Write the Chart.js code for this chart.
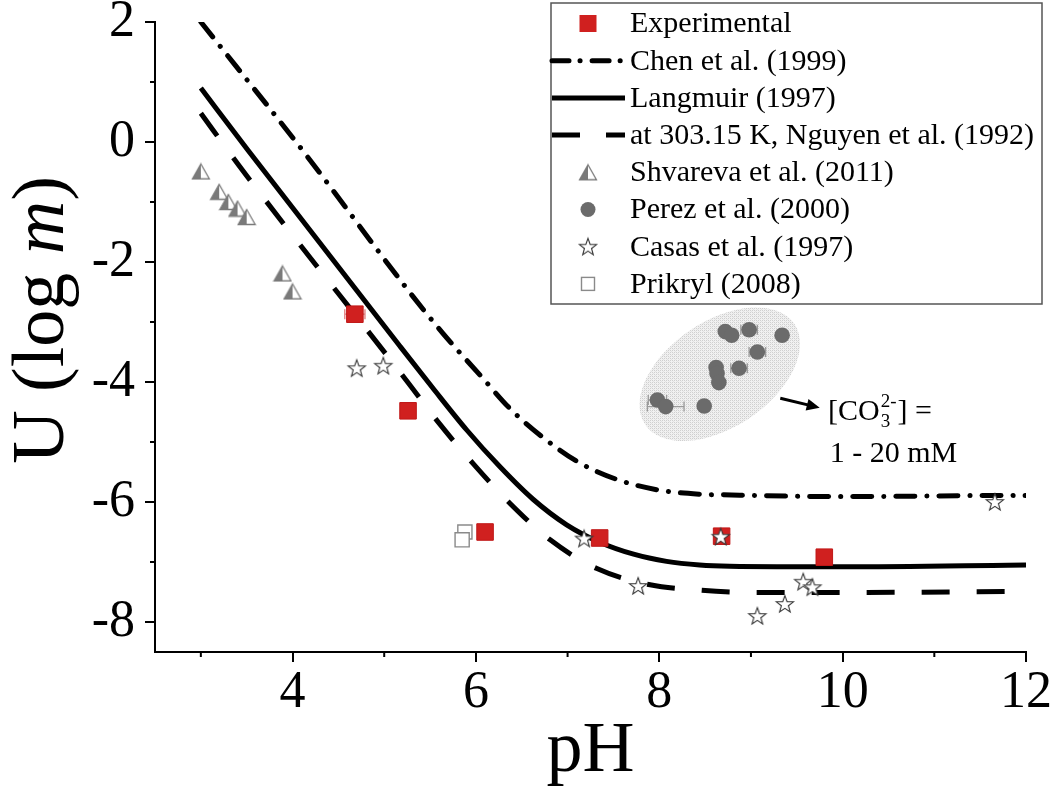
<!DOCTYPE html>
<html><head><meta charset="utf-8">
<script src="https://cdn.jsdelivr.net/npm/chart.js@4.4.0/dist/chart.umd.min.js"></script>
<style>html,body{margin:0;padding:0;background:#fff}#wrap{width:1050px;height:808px;position:relative}</style>
</head><body><div id="wrap"><canvas id="c" width="1050" height="808"></canvas></div>
<script>
// ---------- data ----------
const expPH=[4.68,5.26,6.10,7.35,8.68,9.80];
const expU=[-2.87,-4.48,-6.50,-6.60,-6.57,-6.92];
const expErr=[0.11,0,0,0,0,0];

const chenPH=[3.00,4.13,5.26,5.64,6.06,6.37,6.72,7.11,7.53,7.99,8.44,8.69,9.97,11.90,12.00];
const chenU=[2.00,-0.18,-2.47,-3.19,-3.91,-4.44,-4.91,-5.33,-5.62,-5.80,-5.87,-5.88,-5.91,-5.89,-5.89];

const langPH=[3.00,3.51,5.17,5.53,5.90,6.26,6.62,6.99,7.35,7.72,8.08,8.44,8.77,10.00,12.00];
const langU=[0.90,-0.13,-3.40,-4.10,-4.80,-5.41,-5.95,-6.38,-6.67,-6.87,-6.99,-7.05,-7.07,-7.08,-7.05];

const nguyPH=[3.00,3.42,5.24,5.60,5.97,6.37,6.81,7.32,7.90,8.44,9.06,9.66,12.00];
const nguyU=[0.48,-0.40,-3.97,-4.69,-5.36,-6.02,-6.63,-7.11,-7.38,-7.47,-7.51,-7.51,-7.49];

const shvPH=[3.00,3.20,3.30,3.40,3.50,3.89,4.00];
const shvU=[-0.49,-0.83,-1.00,-1.11,-1.25,-2.19,-2.49];

const perPH=[8.72,8.79,8.98,9.34,9.07,8.62,8.63,8.87,8.65,7.98,8.07,8.49];
const perU=[-3.16,-3.22,-3.13,-3.22,-3.50,-3.76,-3.86,-3.77,-4.01,-4.30,-4.41,-4.40];
const perErr=[0,0,0.09,0,0.09,0,0,0.09,0,0.10,0.20,0];

const casPH=[4.70,4.99,7.18,7.77,8.67,9.57,9.67,9.37,9.07,11.66];
const casU=[-3.77,-3.73,-6.61,-7.40,-6.58,-7.33,-7.42,-7.70,-7.90,-6.00];

const priPH=[5.88,5.85];
const priU=[-6.50,-6.63];

const xTickValues=[4,6,8,10,12];
const xMinorValues=[3,5,7,9,11];
const yTickValues=[-8,-6,-4,-2,0,2];
const yMinorValues=[-7,-5,-3,-1,1];

const legendLabels=['Experimental','Chen et al. (1999)','Langmuir (1997)','at 303.15 K, Nguyen et al. (1992)','Shvareva et al. (2011)','Perez et al. (2000)','Casas et al. (1997)','Prikryl (2008)'];

// annotation anchors (data units)
const cloudCenter=[8.66,-3.87];
const arrowFrom=[9.32,-4.27], arrowTo=[9.75,-4.43];
const noteLine1=[9.84,-4.47], noteLine2=[9.86,-5.17];

// ---------- helpers ----------
const FONT='"Liberation Serif","Times New Roman",serif';
const zip=(xs,ys)=>xs.map((x,i)=>({x:x,y:ys[i]}));
const RED='#d0201f', GRAY='#7a7a7a', DGRAY='#6b6b6b';

function triCanvas(){
  const c=document.createElement('canvas'); c.width=20; c.height=18;
  const g=c.getContext('2d');
  const cx=10, top=1.5, bot=16.5, l=1.5, r=18.5;
  g.beginPath(); g.moveTo(cx,top); g.lineTo(r,bot); g.lineTo(l,bot); g.closePath();
  g.fillStyle='#fff'; g.fill();
  g.beginPath(); g.moveTo(cx,top); g.lineTo(cx,bot); g.lineTo(l,bot); g.closePath();
  g.fillStyle=GRAY; g.fill();
  g.beginPath(); g.moveTo(cx,top); g.lineTo(r,bot); g.lineTo(l,bot); g.closePath();
  g.strokeStyle=GRAY; g.lineWidth=1.3; g.stroke();
  return c;
}
function starCanvas(){
  const c=document.createElement('canvas'); c.width=22; c.height=22;
  const g=c.getContext('2d');
  const cx=11, cy=11.6, R=9, r=3.7;
  g.beginPath();
  for(let i=0;i<10;i++){
    const a=-Math.PI/2+i*Math.PI/5, rr=i%2?r:R;
    const px=cx+rr*Math.cos(a), py=cy+rr*Math.sin(a);
    i?g.lineTo(px,py):g.moveTo(px,py);
  }
  g.closePath(); g.fillStyle='#fff'; g.fill();
  g.strokeStyle='#333'; g.lineWidth=1.1; g.stroke();
  return c;
}
const TRI=triCanvas(), STAR=starCanvas();

function stipple(){
  const c=document.createElement('canvas'); c.width=4; c.height=4;
  const g=c.getContext('2d');
  g.fillStyle='#f1f1f1'; g.fillRect(0,0,4,4);
  g.fillStyle='#cfcfcf'; g.fillRect(0,0,1,1); g.fillRect(2,0,1,1); g.fillRect(0,2,1,1); g.fillRect(2,2,1,1);
  g.fillStyle='#e2e2e2'; g.fillRect(1,1,1,1); g.fillRect(3,3,1,1);
  return c;
}

// ---------- datasets ----------
const datasets=[
  {label:legendLabels[6],data:zip(casPH,casU),pointStyle:STAR,pointRadius:10,order:0,showLine:false},
  {label:legendLabels[0],data:zip(expPH,expU),pointStyle:'rect',pointRadius:11.7,backgroundColor:RED,borderColor:'#c01818',borderWidth:1,order:1,showLine:false,err:expErr,errColor:'#e07a7a'},
  {label:legendLabels[5],data:zip(perPH,perU),pointStyle:'circle',pointRadius:7.8,backgroundColor:DGRAY,borderColor:DGRAY,borderWidth:0,order:2,showLine:false,err:perErr,errColor:'#9a9a9a'},
  {label:legendLabels[4],data:zip(shvPH,shvU),pointStyle:TRI,pointRadius:9,order:3,showLine:false},
  {label:legendLabels[7],data:zip(priPH,priU),pointStyle:'rect',pointRadius:10,backgroundColor:'#fff',borderColor:'#8a8a8a',borderWidth:1.4,order:4,showLine:false},
  {label:legendLabels[1],data:zip(chenPH,chenU),showLine:true,pointRadius:0,borderColor:'#000',borderWidth:5,borderDash:[19,12,0.1,12],borderCapStyle:'round',cubicInterpolationMode:'monotone',order:5,fill:false},
  {label:legendLabels[2],data:zip(langPH,langU),showLine:true,pointRadius:0,borderColor:'#000',borderWidth:5,cubicInterpolationMode:'monotone',order:6,fill:false},
  {label:legendLabels[3],data:zip(nguyPH,nguyU),showLine:true,pointRadius:0,borderColor:'#000',borderWidth:5,borderDash:[28,27],cubicInterpolationMode:'monotone',order:7,fill:false}
];

// ---------- plugins ----------
const decor={
  id:'decor',
  beforeDatasetsDraw(chart){
    const {ctx,scales:{x,y}}=chart;
    ctx.save();
    const cx=x.getPixelForValue(cloudCenter[0]), cy=y.getPixelForValue(cloudCenter[1]);
    ctx.beginPath(); ctx.ellipse(cx,cy,90,53,-34*Math.PI/180,0,Math.PI*2);
    ctx.fillStyle=ctx.createPattern(stipple(),'repeat'); ctx.fill();
    ctx.restore();
    chart.data.datasets.forEach(ds=>{
      if(!ds.err) return;
      ctx.save(); ctx.strokeStyle=ds.errColor; ctx.lineWidth=1.3;
      ds.data.forEach((p,i)=>{
        const e=ds.err[i]; if(!e) return;
        const x0=x.getPixelForValue(p.x-e), x1=x.getPixelForValue(p.x+e), py=y.getPixelForValue(p.y);
        ctx.beginPath(); ctx.moveTo(x0,py); ctx.lineTo(x1,py);
        ctx.moveTo(x0,py-5); ctx.lineTo(x0,py+5); ctx.moveTo(x1,py-5); ctx.lineTo(x1,py+5); ctx.stroke();
      });
      ctx.restore();
    });
  },
  afterDraw(chart){
    const {ctx,scales:{x,y},chartArea:ca}=chart;
    ctx.save();
    ctx.strokeStyle='#000'; ctx.lineWidth=2;
    xMinorValues.forEach(v=>{const px=x.getPixelForValue(v); ctx.beginPath(); ctx.moveTo(px,ca.bottom); ctx.lineTo(px,ca.bottom+5); ctx.stroke();});
    yMinorValues.forEach(v=>{const py=y.getPixelForValue(v); ctx.beginPath(); ctx.moveTo(ca.left,py); ctx.lineTo(ca.left-5,py); ctx.stroke();});
    const ax0=x.getPixelForValue(arrowFrom[0]), ay0=y.getPixelForValue(arrowFrom[1]);
    const ax1=x.getPixelForValue(arrowTo[0]), ay1=y.getPixelForValue(arrowTo[1]);
    const ang=Math.atan2(ay1-ay0,ax1-ax0);
    ctx.strokeStyle='#000'; ctx.lineWidth=3;
    ctx.beginPath(); ctx.moveTo(ax0,ay0); ctx.lineTo(ax1-8*Math.cos(ang),ay1-8*Math.sin(ang)); ctx.stroke();
    ctx.beginPath(); ctx.moveTo(ax1,ay1);
    ctx.lineTo(ax1-13*Math.cos(ang)+6*Math.sin(ang), ay1-13*Math.sin(ang)-6*Math.cos(ang));
    ctx.lineTo(ax1-13*Math.cos(ang)-6*Math.sin(ang), ay1-13*Math.sin(ang)+6*Math.cos(ang));
    ctx.closePath(); ctx.fillStyle='#000'; ctx.fill();
    ctx.fillStyle='#000'; ctx.textBaseline='alphabetic'; ctx.textAlign='left';
    let tx=x.getPixelForValue(noteLine1[0]), ty=y.getPixelForValue(noteLine1[1])+10;
    ctx.font='30px '+FONT; ctx.fillText('[CO',tx,ty); tx+=ctx.measureText('[CO').width;
    ctx.font='19px '+FONT; const wsub=ctx.measureText('3').width, wsup=ctx.measureText('2-').width;
    ctx.fillText('3',tx+1,ty+7); ctx.fillText('2-',tx+1,ty-13);
    tx+=Math.max(wsub,wsup)+2;
    ctx.font='30px '+FONT; ctx.fillText('] =',tx,ty);
    ctx.fillText('1 - 20 mM',x.getPixelForValue(noteLine2[0]),y.getPixelForValue(noteLine2[1])+10);
    ctx.font='72px '+FONT; ctx.textBaseline='middle'; ctx.textAlign='center';
    ctx.fillText('pH',(ca.left+ca.right)/2,752);
    ctx.save(); ctx.translate(44,320); ctx.rotate(-Math.PI/2);
    const parts=[['U (log ','74px '+FONT],['m','italic 74px '+FONT],[')','74px '+FONT]];
    let tw=0; parts.forEach(p=>{ctx.font=p[1]; tw+=ctx.measureText(p[0]).width;});
    let sx=-tw/2; ctx.textAlign='left';
    parts.forEach(p=>{ctx.font=p[1]; ctx.fillText(p[0],sx,0); sx+=ctx.measureText(p[0]).width;});
    ctx.restore();
    const bx=551, by=3, bw=491, bh=301;
    ctx.fillStyle='#fff'; ctx.fillRect(bx,by,bw,bh);
    ctx.strokeStyle='#555'; ctx.lineWidth=1.5; ctx.strokeRect(bx,by,bw,bh);
    const rowY=i=>23.5+i*37.2;
    const symX=588, lx0=552, lx1=625;
    ctx.font='30px '+FONT; ctx.textAlign='left'; ctx.textBaseline='middle'; ctx.fillStyle='#000';
    legendLabels.forEach((t,i)=>ctx.fillText(t,630,rowY(i)+1));
    ctx.fillStyle=RED; ctx.fillRect(symX-8.5,rowY(0)-8.5,17,17);
    const line=(i,dash)=>{ctx.save(); ctx.strokeStyle='#000'; ctx.lineWidth=5; ctx.lineCap=dash&&dash.length>2?'round':'butt'; ctx.setLineDash(dash||[]); ctx.beginPath(); ctx.moveTo(lx0,rowY(i)); ctx.lineTo(lx1,rowY(i)); ctx.stroke(); ctx.restore();};
    line(1,[17,11,0.1,12]); line(2,null); line(3,[28,26]);
    ctx.drawImage(TRI,symX-10,rowY(4)-9);
    ctx.fillStyle=DGRAY; ctx.beginPath(); ctx.arc(symX,rowY(5),7.5,0,Math.PI*2); ctx.fill();
    ctx.drawImage(STAR,symX-11,rowY(6)-11);
    ctx.fillStyle='#fff'; ctx.strokeStyle='#8a8a8a'; ctx.lineWidth=1.4; ctx.fillRect(symX-6.5,rowY(7)-6.5,13,13); ctx.strokeRect(symX-6.5,rowY(7)-6.5,13,13);
    ctx.restore();
  }
};

new Chart(document.getElementById('c'),{
  type:'scatter',
  data:{datasets:datasets},
  options:{
    responsive:false, animation:false, devicePixelRatio:1,
    layout:{padding:{top:22,right:24,left:0,bottom:0}},
    plugins:{legend:{display:false},tooltip:{enabled:false}},
    scales:{
      x:{type:'linear',min:2.5,max:12,
        afterBuildTicks:s=>{s.ticks=xTickValues.map(v=>({value:v}));},
        afterFit:s=>{s.height=156;s.paddingLeft=0;s.paddingRight=0;},
        ticks:{color:'#000',font:{family:FONT,size:52},padding:0,maxRotation:0,autoSkip:false,callback:v=>String(v)},
        grid:{drawOnChartArea:false,drawTicks:true,tickLength:10,color:'#000',lineWidth:2},
        border:{display:true,color:'#000',width:2},title:{display:false}},
      y:{type:'linear',min:-8.5,max:2,
        afterBuildTicks:s=>{s.ticks=yTickValues.map(v=>({value:v}));},
        afterFit:s=>{s.width=155;s.paddingTop=0;s.paddingBottom=0;},
        ticks:{color:'#000',font:{family:FONT,size:52},padding:10,autoSkip:false,callback:v=>String(v)},
        grid:{drawOnChartArea:false,drawTicks:true,tickLength:10,color:'#000',lineWidth:2},
        border:{display:true,color:'#000',width:2},title:{display:false}}
    }
  },
  plugins:[decor]
});
</script>
</body></html>
